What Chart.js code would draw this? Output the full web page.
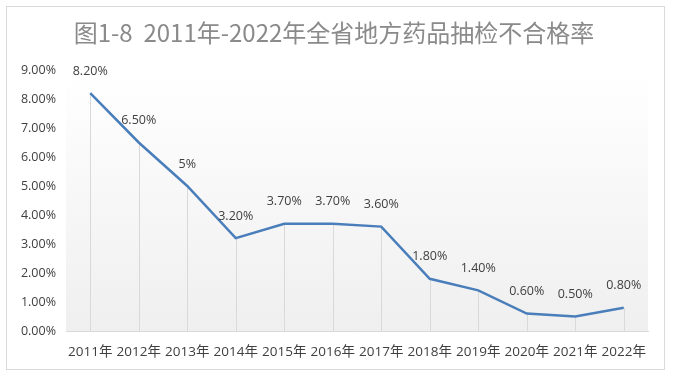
<!DOCTYPE html>
<html>
<head>
<meta charset="utf-8">
<script src="https://cdn.jsdelivr.net/npm/chart.js@4"></script>
<style>
  html, body { margin: 0; padding: 0; background: #fff; }
  #wrap { width: 673px; height: 377px; position: relative; }
</style>
</head>
<body>
<div id="wrap"><canvas id="rateChart" width="673" height="377"></canvas></div>
<script>
const chartTitle = '图1-8  2011年-2022年全省地方药品抽检不合格率';
const years = ['2011年', '2012年', '2013年', '2014年', '2015年', '2016年',
               '2017年', '2018年', '2019年', '2020年', '2021年', '2022年'];
const rates = [8.2, 6.5, 5, 3.2, 3.7, 3.7, 3.6, 1.8, 1.4, 0.6, 0.5, 0.8];
const rateLabels = ['8.20%', '6.50%', '5%', '3.20%', '3.70%', '3.70%',
                    '3.60%', '1.80%', '1.40%', '0.60%', '0.50%', '0.80%'];

const fontFamily = '"Open Sans", "Noto Sans CJK SC", sans-serif';

// background gradient, frame and title
const backdrop = {
    id: 'backdrop',
    beforeDraw(chart) {
        const ctx = chart.ctx;
        const area = chart.chartArea;
        ctx.save();
        ctx.fillStyle = '#ffffff';
        ctx.fillRect(0, 0, chart.width, chart.height);
        const grad = ctx.createLinearGradient(0, area.top, 0, area.bottom);
        grad.addColorStop(0, '#ffffff');
        grad.addColorStop(1, '#efefef');
        ctx.fillStyle = grad;
        ctx.fillRect(area.left, area.top, area.right - area.left, area.bottom - area.top);
        ctx.strokeStyle = '#d9d9d9';
        ctx.lineWidth = 1;
        ctx.strokeRect(6.5, 6.5, 658, 363);
        ctx.fillStyle = '#8a8a8a';
        ctx.font = '24px "Noto Sans CJK SC", sans-serif';
        ctx.textAlign = 'center';
        ctx.textBaseline = 'middle';
        ctx.fillText(chartTitle, 334, 33);
        ctx.restore();
    }
};

// drop lines from each point down to the x axis
const dropLines = {
    id: 'dropLines',
    beforeDatasetsDraw(chart) {
        const ctx = chart.ctx;
        const xs = chart.scales.x;
        const ys = chart.scales.y;
        ctx.save();
        ctx.strokeStyle = '#d9d9d9';
        ctx.lineWidth = 1;
        rates.forEach((v, i) => {
            const x = Math.round(xs.getPixelForValue(i)) + 0.5;
            ctx.beginPath();
            ctx.moveTo(x, ys.getPixelForValue(v));
            ctx.lineTo(x, ys.getPixelForValue(0));
            ctx.stroke();
        });
        ctx.restore();
    }
};

// value labels above the points
const valueLabels = {
    id: 'valueLabels',
    afterDatasetsDraw(chart) {
        const ctx = chart.ctx;
        const meta = chart.getDatasetMeta(0);
        ctx.save();
        ctx.fillStyle = '#404040';
        ctx.font = '12.5px ' + fontFamily;
        ctx.textAlign = 'center';
        ctx.textBaseline = 'middle';
        meta.data.forEach((pt, i) => {
            ctx.fillText(rateLabels[i], pt.x, pt.y - 22);
        });
        ctx.restore();
    }
};

const ctx = document.getElementById('rateChart').getContext('2d');
new Chart(ctx, {
    type: 'line',
    data: {
        labels: years,
        datasets: [{
            data: rates,
            borderColor: '#4a7ebb',
            borderWidth: 2.5,
            pointRadius: 0,
            tension: 0,
            fill: false
        }]
    },
    options: {
        responsive: false,
        animation: false,
        devicePixelRatio: 1,
        layout: { padding: { top: 70, right: 25, bottom: 6, left: 0 } },
        plugins: {
            legend: { display: false },
            title: { display: false },
            tooltip: { enabled: false }
        },
        scales: {
            x: {
                offset: true,
                grid: { display: false, drawTicks: false },
                border: { display: true, color: '#d9d9d9' },
                ticks: {
                    color: '#404040',
                    padding: 13,
                    maxRotation: 0,
                    autoSkip: false,
                    font: { family: fontFamily, size: 13.5 }
                },
                afterFit: s => { s.height = 40; }
            },
            y: {
                min: 0,
                max: 9,
                grid: { display: false, drawTicks: false },
                border: { display: false },
                ticks: {
                    stepSize: 1,
                    color: '#404040',
                    padding: 10,
                    font: { family: fontFamily, size: 12.5 },
                    callback: v => v.toFixed(2) + '%'
                },
                afterFit: s => { s.width = 66; }
            }
        }
    },
    plugins: [backdrop, dropLines, valueLabels]
});
</script>
</body>
</html>
